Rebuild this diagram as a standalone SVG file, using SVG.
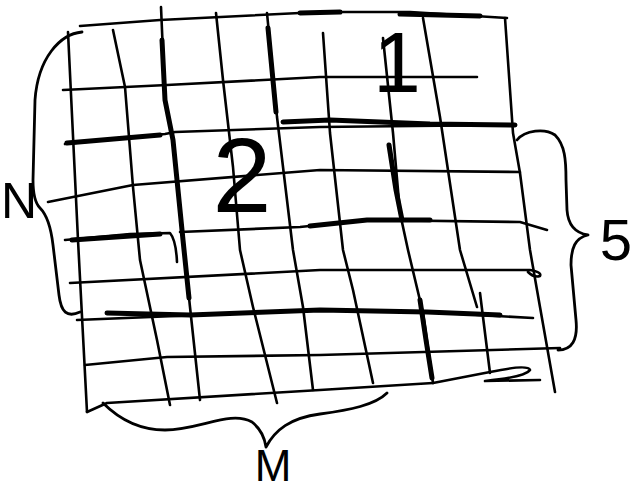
<svg xmlns="http://www.w3.org/2000/svg" width="633" height="490" viewBox="0 0 633 490">
<style>
.ln{fill:none;stroke:#000;stroke-width:2.6;stroke-linecap:round;stroke-linejoin:round}
.tk{fill:none;stroke:#000;stroke-width:5;stroke-linecap:round;stroke-linejoin:round}
.br{fill:none;stroke:#000;stroke-width:2.8;stroke-linecap:round;stroke-linejoin:round}
.lb{font-family:"Liberation Sans",Arial,sans-serif;fill:#000}
</style>
<rect width="633" height="490" fill="#fff"/>
<g id="grid">
<path class="ln" d="M68,32 L78,240 L87,412"/>
<path class="ln" d="M113,30 L125,87 L133,187 L140,260 L157,340 L170,405"/>
<path class="ln" d="M161,7 L165,100 L173,140 L183,240 L190,307 L200,400"/>
<path class="tk" d="M162,40 L165,100 L173,140 L183,240 L189,298"/>
<path class="ln" d="M216,13 L223,80 L233,167 L240,250 L253,307 L277,403"/>
<path class="ln" d="M267,13 L277,117 L293,250 L303,307 L313,390"/>
<path class="tk" d="M268,28 L276,112"/>
<path class="ln" d="M323,33 L330,133 L343,250 L353,290 L373,383"/>
<path class="ln" d="M383,38 L393,133 L400,213 L408,250 L423,313 L433,383"/>
<path class="tk" d="M389,145 L396,190 L402,220"/>
<path class="tk" d="M420,300 L426,340 L432,378"/>
<path class="ln" d="M423,18 L440,117 L460,250 L477,307"/>
<path class="ln" d="M480,293 L490,373"/>
<path class="ln" d="M505,18 L513,133 L520,173 L530,250 L540,307 L555,392"/>
<path class="ln" d="M80,26 L160,20 L320,12 L410,12 L507,18"/>
<path class="tk" d="M300,13 L340,12"/>
<path class="tk" d="M400,14 L480,16"/>
<path class="ln" d="M63,90 L167,85 L320,77 L477,77"/>
<path class="ln" d="M65,144 L165,134 L175,132 L320,127 L515,125"/>
<path class="tk" d="M67,143 L160,135"/>
<path class="tk" d="M283,122 L330,120 L430,124 L515,125"/>
<path class="ln" d="M48,202 L133,185 L320,170 L520,172"/>
<path class="ln" d="M65,240 L130,234 L170,233 Q176,240 177,262"/>
<path class="tk" d="M72,240 L160,234"/>
<path class="ln" d="M180,232 L300,227 L367,220 L520,222 L547,230"/>
<path class="tk" d="M310,226 L367,220 L430,220"/>
<path class="ln" d="M70,283 L320,270 L530,270 Q542,272 540,276 Q534,278 528,272"/>
<path class="ln" d="M77,320 L320,310 L427,312 L533,318"/>
<path class="tk" d="M107,313 L190,315 L320,310 L427,312 L500,315"/>
<path class="ln" d="M85,365 L167,357 L320,355 L560,348"/>
<path class="ln" d="M87,412 L107,403 L320,390 L433,383"/>
<path class="ln" d="M433,383 L490,372 Q528,364 530,370 Q525,377 485,381 L540,380"/>
</g>
<g id="braces">
<path class="br" d="M82,32 C60,34 38,58 35,100 L33,180 C33,196 36,204 40,208 C46,214 51,228 53,245 L59,295 C61,312 67,318 80,312"/>
<path class="br" d="M517,140 C525,130 545,128 555,135 C565,145 566,160 566,180 L567,210 C568,225 575,233 588,235 C575,238 571,248 571,265 L576,320 C578,340 572,350 558,350"/>
<path class="br" d="M103,403 C115,415 135,430 165,430 C200,430 230,410 252,422 C262,430 265,440 266,447 C275,430 290,418 320,414 C350,410 375,405 387,393"/>
</g>
<g id="labels">
<text class="lb" x="1" y="218" font-size="50">N</text>
<text class="lb" x="397" y="92" font-size="86" text-anchor="middle">1</text>
<text class="lb" x="242" y="212" font-size="106" text-anchor="middle">2</text>
<text class="lb" x="616" y="260" font-size="58" text-anchor="middle">5</text>
<text class="lb" x="273" y="481" font-size="44" text-anchor="middle">M</text>
</g>
</svg>
